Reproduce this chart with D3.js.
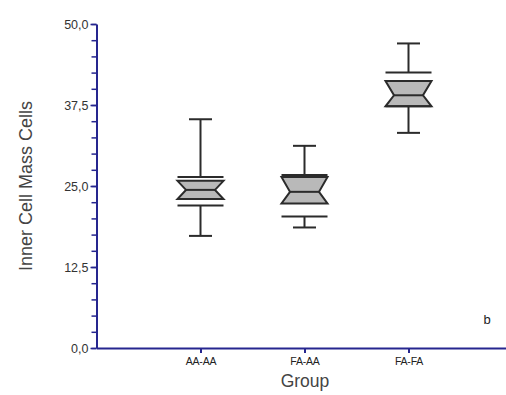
<!DOCTYPE html>
<html>
<head>
<meta charset="utf-8">
<script src="https://d3js.org/d3.v7.min.js"></script>
<style>
  body { margin: 0; background: #fff; }
  text { font-family: "Liberation Sans", Arial, sans-serif; }
</style>
</head>
<body>
<div id="chart"></div>
<script>
// values
var groups = ["AA-AA", "FA-AA", "FA-FA"];
var whiskerLow  = [17.3, 18.6, 33.2];
var q1          = [22.0, 20.3, 37.3];
var notchLow    = [23.0, 22.3, 37.3];
var median      = [24.4, 24.1, 39.0];
var notchHigh   = [25.8, 26.4, 41.2];
var q3          = [26.4, 26.7, 42.5];
var whiskerHigh = [35.3, 31.2, 47.0];
var yTicks = [0, 12.5, 25, 37.5, 50];

var W = 506, H = 395;
var margin = {top: 24, right: 0, bottom: 47, left: 96.5};
var width = W - margin.left - margin.right,
    height = H - margin.top - margin.bottom;

var axisColor = "#26268f";
var lineColor = "#2b2b2b";

var svg = d3.select("#chart").append("svg")
    .attr("width", W)
    .attr("height", H);

var g = svg.append("g")
    .attr("transform", "translate(" + margin.left + "," + margin.top + ")");

var x = d3.scalePoint()
    .domain(groups)
    .range([0, 416])
    .padding(1);

var y = d3.scaleLinear()
    .domain([0, 50])
    .range([height, 0]);

// minor ticks
var minor = d3.range(0, 50.01, 2.5);
g.append("g")
    .call(d3.axisLeft(y).tickValues(minor).tickSize(5).tickFormat(""))
    .call(function(a) {
      a.select(".domain").remove();
      a.selectAll("line").attr("stroke", axisColor).attr("stroke-width", 1.5);
    });

// major y axis
var fmt = function(d) { return d3.format(".1f")(d).replace(".", ","); };
g.append("g")
    .call(d3.axisLeft(y).tickValues(yTicks).tickSize(6).tickSizeOuter(0).tickFormat(fmt))
    .call(function(a) {
      a.select(".domain").attr("stroke", axisColor).attr("stroke-width", 2);
      a.selectAll("line").attr("stroke", axisColor).attr("stroke-width", 1.5);
      a.selectAll("text").attr("fill", "#333").style("font-size", "12.5px").attr("x", -8);
    });

// x axis
g.append("g")
    .attr("transform", "translate(0," + height + ")")
    .call(d3.axisBottom(x).tickSize(5).tickSizeOuter(0))
    .call(function(a) {
      a.select(".domain").attr("stroke", axisColor).attr("stroke-width", 2);
      a.selectAll("line").attr("stroke", axisColor).attr("stroke-width", 2);
      a.selectAll("text").attr("fill", "#222").style("font-size", "10.5px")
        .style("letter-spacing", "-0.2px").attr("y", 10);
    });

// box plots
var halfBox = 23, halfPinch = 14.5, halfCap = 11.5;
var data = groups.map(function(gr, i) {
  return {g: gr, wl: whiskerLow[i], q1: q1[i], nl: notchLow[i], med: median[i],
          nh: notchHigh[i], q3: q3[i], wh: whiskerHigh[i]};
});

var boxes = g.selectAll(".box").data(data).enter().append("g")
    .attr("class", "box")
    .attr("stroke", lineColor)
    .attr("stroke-width", 2);

// whiskers
boxes.append("line")
    .attr("x1", function(d) { return x(d.g); })
    .attr("x2", function(d) { return x(d.g); })
    .attr("y1", function(d) { return y(d.q3); })
    .attr("y2", function(d) { return y(d.wh); });
boxes.append("line")
    .attr("x1", function(d) { return x(d.g); })
    .attr("x2", function(d) { return x(d.g); })
    .attr("y1", function(d) { return y(d.q1); })
    .attr("y2", function(d) { return y(d.wl); });
// caps
boxes.append("line")
    .attr("x1", function(d) { return x(d.g) - halfCap; })
    .attr("x2", function(d) { return x(d.g) + halfCap; })
    .attr("y1", function(d) { return y(d.wh); })
    .attr("y2", function(d) { return y(d.wh); });
boxes.append("line")
    .attr("x1", function(d) { return x(d.g) - halfCap; })
    .attr("x2", function(d) { return x(d.g) + halfCap; })
    .attr("y1", function(d) { return y(d.wl); })
    .attr("y2", function(d) { return y(d.wl); });

// notch shape
boxes.append("path")
    .attr("fill", "#b9b9b9")
    .attr("stroke-linejoin", "miter")
    .attr("d", function(d) {
      var cx = x(d.g);
      return "M" + (cx - halfBox) + "," + y(d.nh) +
             "L" + (cx + halfBox) + "," + y(d.nh) +
             "L" + (cx + halfPinch) + "," + y(d.med) +
             "L" + (cx + halfBox) + "," + y(d.nl) +
             "L" + (cx - halfBox) + "," + y(d.nl) +
             "L" + (cx - halfPinch) + "," + y(d.med) + "Z";
    });
// median
boxes.append("line")
    .attr("x1", function(d) { return x(d.g) - halfPinch; })
    .attr("x2", function(d) { return x(d.g) + halfPinch; })
    .attr("y1", function(d) { return y(d.med); })
    .attr("y2", function(d) { return y(d.med); });
// quartile lines
boxes.append("line")
    .attr("x1", function(d) { return x(d.g) - halfBox; })
    .attr("x2", function(d) { return x(d.g) + halfBox; })
    .attr("y1", function(d) { return y(d.q3); })
    .attr("y2", function(d) { return y(d.q3); });
boxes.append("line")
    .attr("x1", function(d) { return x(d.g) - halfBox; })
    .attr("x2", function(d) { return x(d.g) + halfBox; })
    .attr("y1", function(d) { return y(d.q1); })
    .attr("y2", function(d) { return y(d.q1); });

// titles
svg.append("text")
    .attr("transform", "translate(32," + (margin.top + height / 2) + ")rotate(-90)")
    .attr("text-anchor", "middle")
    .attr("fill", "#444")
    .style("font-size", "18px")
    .text("Inner Cell Mass Cells");

svg.append("text")
    .attr("x", 305)
    .attr("y", 387)
    .attr("text-anchor", "middle")
    .attr("fill", "#444")
    .style("font-size", "17.5px")
    .text("Group");

svg.append("text")
    .attr("x", 487)
    .attr("y", 324)
    .attr("text-anchor", "middle")
    .attr("fill", "#222")
    .style("font-size", "13px")
    .text("b");
</script>
</body>
</html>
